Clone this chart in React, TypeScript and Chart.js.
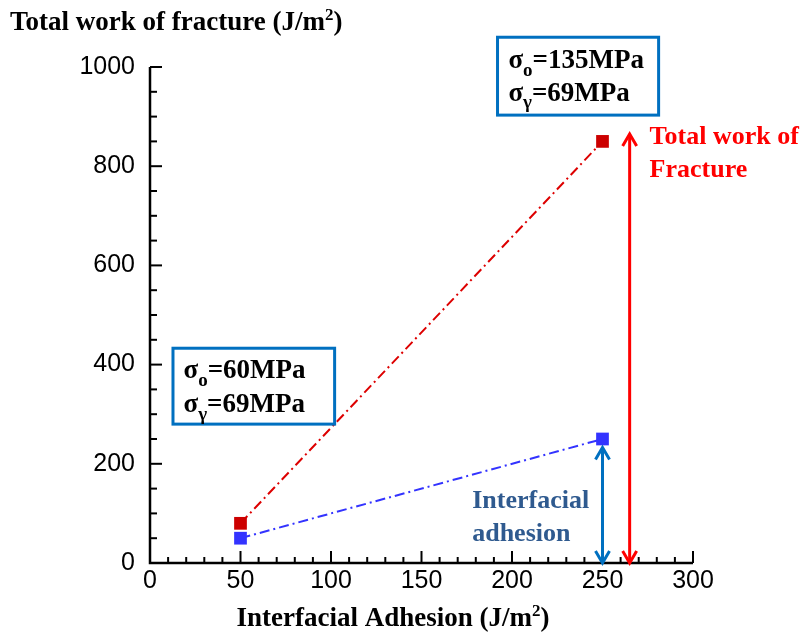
import { useEffect, useRef } from 'react';
import { Chart, registerables } from 'chart.js';

Chart.register(...registerables);

// ---- data ----
const adhesionX = [50, 250];
const totalWorkY = [80, 850];
const adhesionY = [50, 250];
const xTickStep = 50;
const yTickStep = 200;
const xRange = [0, 300];
const yRange = [0, 1000];

const SERIF = '"Liberation Serif", "Times New Roman", serif';
const SANS = '"Liberation Sans", Arial, sans-serif';

type Seg = { t: string; m?: 'sup' | 'sub' };

function segFont(s: Seg, size: number) {
  if (s.m === 'sup') return Math.round(size * 0.62);
  if (s.m === 'sub') return Math.round(size * 0.7);
  return size;
}

function drawRich(ctx: CanvasRenderingContext2D, x: number, y: number, segs: Seg[], size: number, color: string) {
  let cx = x;
  ctx.fillStyle = color;
  ctx.textBaseline = 'alphabetic';
  ctx.textAlign = 'left';
  for (const s of segs) {
    const fs = segFont(s, size);
    let dy = 0;
    if (s.m === 'sup') dy = -size * 0.38;
    if (s.m === 'sub') dy = size * 0.28;
    ctx.font = `bold ${fs}px ${SERIF}`;
    ctx.fillText(s.t, cx, y + dy);
    cx += ctx.measureText(s.t).width;
  }
  return cx - x;
}

function richWidth(ctx: CanvasRenderingContext2D, segs: Seg[], size: number) {
  let w = 0;
  for (const s of segs) {
    ctx.font = `bold ${segFont(s, size)}px ${SERIF}`;
    w += ctx.measureText(s.t).width;
  }
  return w;
}

function drawArrow(ctx: CanvasRenderingContext2D, x: number, yTop: number, yBot: number, color: string) {
  const hw = 7, hl = 12;
  ctx.save();
  ctx.strokeStyle = color;
  ctx.lineWidth = 3;
  ctx.beginPath();
  ctx.moveTo(x, yTop + 1);
  ctx.lineTo(x, yBot - 1);
  ctx.stroke();
  ctx.beginPath();
  ctx.moveTo(x - hw, yTop + hl);
  ctx.lineTo(x, yTop);
  ctx.lineTo(x + hw, yTop + hl);
  ctx.moveTo(x - hw, yBot - hl);
  ctx.lineTo(x, yBot);
  ctx.lineTo(x + hw, yBot - hl);
  ctx.stroke();
  ctx.restore();
}

const overlay = {
  id: 'overlay',
  afterDraw(chart: any) {
    const ctx: CanvasRenderingContext2D = chart.ctx;
    const xs = chart.scales.x;
    const ys = chart.scales.y;
    const px = (v: number) => xs.getPixelForValue(v);
    const py = (v: number) => ys.getPixelForValue(v);
    const { left, right, top, bottom } = chart.chartArea;

    ctx.save();
    // axes
    ctx.strokeStyle = '#000';
    ctx.lineWidth = 2.5;
    ctx.beginPath();
    ctx.moveTo(left, top);
    ctx.lineTo(left, bottom);
    ctx.lineTo(right, bottom);
    ctx.stroke();
    // inward ticks
    ctx.lineWidth = 2;
    for (let v = xRange[0]; v <= xRange[1]; v += 10) {
      const len = v % xTickStep === 0 ? 12 : 6;
      const x = px(v);
      ctx.beginPath();
      ctx.moveTo(x, bottom);
      ctx.lineTo(x, bottom - len);
      ctx.stroke();
    }
    for (let v = yRange[0]; v <= yRange[1]; v += 50) {
      const len = v % yTickStep === 0 ? 12 : 7;
      const y = py(v);
      ctx.beginPath();
      ctx.moveTo(left, y);
      ctx.lineTo(left + len, y);
      ctx.stroke();
    }

    // axis titles
    const yTitle: Seg[] = [{ t: 'Total work of fracture (J/m' }, { t: '2', m: 'sup' }, { t: ')' }];
    drawRich(ctx, 10, 30, yTitle, 27, '#000');
    const xTitle: Seg[] = [{ t: 'Interfacial Adhesion (J/m' }, { t: '2', m: 'sup' }, { t: ')' }];
    const xw = richWidth(ctx, xTitle, 27);
    drawRich(ctx, 393 - xw / 2, 626, xTitle, 27, '#000');

    // arrows
    drawArrow(ctx, px(250), py(233), py(0), '#0070c0');
    drawArrow(ctx, px(265), py(865), py(0), '#ff0000');

    // text annotations
    drawRich(ctx, px(276), py(845), [{ t: 'Total work of' }], 26, '#ff0000');
    drawRich(ctx, px(276), py(778), [{ t: 'Fracture' }], 26, '#ff0000');
    drawRich(ctx, px(178), py(111), [{ t: 'Interfacial' }], 26, '#2f5a8f');
    drawRich(ctx, px(178), py(44), [{ t: 'adhesion' }], 26, '#2f5a8f');

    // boxes
    const box = (x0: number, y0: number, x1: number, y1: number) => {
      ctx.fillStyle = '#fff';
      ctx.fillRect(px(x0), py(y0), px(x1) - px(x0), py(y1) - py(y0));
      ctx.strokeStyle = '#0070c0';
      ctx.lineWidth = 3;
      ctx.strokeRect(px(x0), py(y0), px(x1) - px(x0), py(y1) - py(y0));
    };
    box(192, 1060, 281, 903);
    drawRich(ctx, px(198), py(998), [{ t: 'σ' }, { t: 'o', m: 'sub' }, { t: '=135MPa' }], 27, '#000');
    drawRich(ctx, px(198), py(932), [{ t: 'σ' }, { t: 'γ', m: 'sub' }, { t: '=69MPa' }], 27, '#000');
    box(12.7, 433, 102, 280);
    drawRich(ctx, px(18.5), py(373), [{ t: 'σ' }, { t: 'o', m: 'sub' }, { t: '=60MPa' }], 27, '#000');
    drawRich(ctx, px(18.5), py(304), [{ t: 'σ' }, { t: 'γ', m: 'sub' }, { t: '=69MPa' }], 27, '#000');

    ctx.restore();
  },
};

export default function App() {
  const ref = useRef<HTMLCanvasElement | null>(null);
  useEffect(() => {
    if (!ref.current) return;
    const chart = new Chart(ref.current, {
      type: 'scatter',
      data: {
        datasets: [
          {
            label: 'Total work of fracture',
            data: adhesionX.map((x, i) => ({ x, y: totalWorkY[i] })),
            showLine: true,
            borderColor: '#dd0000',
            backgroundColor: '#cc0000',
            borderWidth: 2,
            borderDash: [10, 4, 2, 4],
            pointStyle: 'rect',
            pointRadius: 9,
            pointBorderWidth: 0,
          },
          {
            label: 'Interfacial adhesion',
            data: adhesionX.map((x, i) => ({ x, y: adhesionY[i] })),
            showLine: true,
            borderColor: '#3333ff',
            backgroundColor: '#3333ff',
            borderWidth: 2,
            borderDash: [10, 4, 2, 4],
            pointStyle: 'rect',
            pointRadius: 9,
            pointBorderWidth: 0,
          },
        ],
      },
      options: {
        responsive: false,
        animation: false,
        layout: { padding: { top: 67, right: 116, left: 0, bottom: 0 } },
        plugins: { legend: { display: false }, tooltip: { enabled: false } },
        scales: {
          x: {
            type: 'linear',
            min: xRange[0],
            max: xRange[1],
            grid: { display: false },
            border: { display: false },
            ticks: {
              stepSize: xTickStep,
              color: '#000',
              font: { family: SANS, size: 25 },
              padding: -5,
              maxRotation: 0,
              callback: (v: any) => String(v),
            },
            afterFit: (s: any) => { s.height = 72; },
          },
          y: {
            type: 'linear',
            min: yRange[0],
            max: yRange[1],
            grid: { display: false },
            border: { display: false },
            ticks: {
              stepSize: yTickStep,
              color: '#000',
              font: { family: SANS, size: 25 },
              padding: 7,
              callback: (v: any) => String(v),
            },
            afterFit: (s: any) => { s.width = 150; },
          },
        },
      },
      plugins: [overlay],
    });
    return () => chart.destroy();
  }, []);
  return (
    <div style={{ position: 'absolute', left: 0, top: 0, width: 809, height: 635 }}>
      <canvas ref={ref} width={809} height={635} style={{ display: 'block' }} />
    </div>
  );
}
